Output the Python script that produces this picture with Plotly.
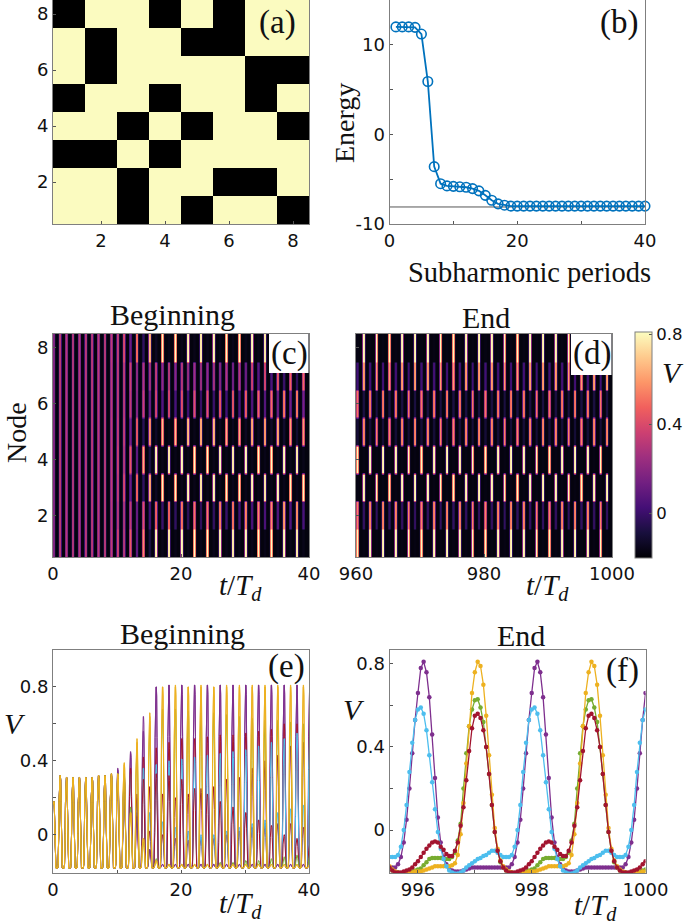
"""Six panel figure: coupling matrix, energy curve, voltage heatmaps and traces."""

import numpy as np
import plotly.colors as pc
import plotly.graph_objects as go

W, H = 685, 924

GREY = "#7f7f7f"
SERIF = "Liberation Serif"
SANS = "DejaVu Sans"

PURPLE = "#7E2F8E"
GREEN = "#77AC30"
CYAN = "#4DBEEE"
RED = "#A2142F"
ORANGE = "#EDB120"

# panel (a): coupling matrix, row 1 first (1 = pale, 0 = black)
COUPLING = [
    [1, 1, 0, 1, 0, 1, 1, 0],
    [1, 1, 0, 1, 1, 0, 0, 1],
    [0, 0, 1, 0, 1, 1, 1, 1],
    [1, 1, 0, 1, 0, 1, 1, 0],
    [0, 1, 1, 0, 1, 1, 0, 1],
    [1, 0, 1, 1, 1, 1, 0, 0],
    [1, 0, 1, 1, 0, 0, 1, 1],
    [0, 1, 1, 0, 1, 0, 1, 1],
]

# panel (b): energy per subharmonic period
PERIODS = list(range(1, 41))
ENERGY = [12.0, 12.0, 12.0, 11.95, 11.2, 5.9, -3.6, -5.5, -5.75, -5.8,
          -5.85, -5.9, -6.05, -6.3, -6.8, -7.35, -7.75, -7.9, -8.0, -8.0,
          -8.0, -8.0, -8.0, -8.0, -8.0, -8.0, -8.0, -8.0, -8.0, -8.0,
          -8.0, -8.0, -8.0, -8.0, -8.0, -8.0, -8.0, -8.0, -8.0, -8.0]
GROUND = [-8.1, -8.1]
GROUND_X = [0, 40]

# panels (c) and (e): peak voltage of each node's pulse at t = 0, 1, ... 40
NODE_1 = [.18, .32, .31, .31, .31, .31, .31, .32, .32, .33, .36, .30, .45, .10, .56, -.08, .80, -.16, .81, -.16, .81,
          -.16, .81, -.16, .81, -.16, .81, -.16, .81, -.16, .81, -.16, .81, -.16, .81, -.16, .81, -.16, .81, -.16, .81]
NODE_2 = [.18, .32, .31, .31, .31, .31, .31, .32, .32, .32, .30, .28, .33, .12, .42, .02, .47, .00, .50, -.02, .52,
          -.03, .52, -.02, .53, -.02, .54, .00, .54, .02, .55, .04, .56, .05, .57, .06, .60, .06, .60, .04, .60]
NODE_3 = [.18, .32, .31, .31, .31, .31, .31, .32, .32, .33, .33, .38, .12, .50, -.02, .64, -.14, .80, -.16, .80, -.16,
          .80, -.16, .80, -.16, .80, -.16, .80, -.16, .80, -.16, .80, -.16, .80, -.16, .80, -.16, .80, -.16, .80, -.16]
NODE_4 = [.18, .32, .31, .31, .31, .31, .31, .32, .32, .33, .35, .30, .44, .10, .64, -.08, .80, -.16, .81, -.16, .81,
          -.16, .81, -.16, .81, -.16, .81, -.16, .81, -.16, .81, -.16, .81, -.16, .81, -.16, .81, -.16, .81, -.16, .81]
NODE_5 = [.18, .32, .31, .31, .31, .31, .31, .32, .32, .33, .33, .33, .15, .46, -.04, .58, -.13, .68, -.16, .68, -.16,
          .67, -.16, .66, -.16, .66, -.15, .65, -.15, .64, -.14, .63, -.14, .62, -.13, .62, -.12, .61, -.11, .60, -.10]
NODE_6 = [.18, .32, .31, .31, .31, .31, .31, .32, .32, .32, .32, .31, .33, .20, .36, .12, .38, .07, .40, .04, .41,
          .02, .42, .00, .43, .00, .44, .02, .45, .04, .46, .06, .48, .08, .50, .12, .52, .14, .55, .16, .56]
NODE_7 = [.18, .32, .31, .31, .31, .31, .31, .32, .32, .32, .32, .32, .36, .22, .30, .26, .33, .22, .32, .20, .30,
          .22, .25, .25, .22, .26, .18, .30, .15, .31, .12, .36, .08, .40, .05, .43, .00, .48, -.02, .50, -.05]
NODE_8 = [.18, .32, .31, .31, .31, .31, .31, .32, .32, .33, .33, .39, .12, .52, -.02, .66, -.14, .80, -.16, .81, -.16,
          .80, -.16, .81, -.16, .80, -.16, .81, -.16, .81, -.16, .81, -.16, .81, -.16, .81, -.16, .81, -.16, .81, -.16]
NODES_BEGIN = [NODE_1, NODE_2, NODE_3, NODE_4, NODE_5, NODE_6, NODE_7, NODE_8]

# panel (d): peak voltage on (even, odd) periods once locked, node 1 first
NODES_END = [
    [.80, -.17],
    [.55, -.02],
    [-.17, .80],
    [.80, -.17],
    [-.10, .55],
    [.52, -.08],
    [.02, .60],
    [-.17, .80],
]

# shape of one pulse as it looks in (c) to (e): fraction of its height,
# one value per 0.05 of time from 0.5 before the peak to 0.45 after it
PULSE_DT = [-.5, -.45, -.4, -.35, -.3, -.25, -.2, -.15, -.1, -.05,
            0, .05, .1, .15, .2, .25, .3, .35, .4, .45]
PULSE_SHAPE = [0, 0, 0, 0, .04, .15, .38, .72, .95, 1,
               1, 1, .95, .72, .38, .15, .04, 0, 0, 0]
BASE_V = -.18

# panel (f): one 2-period cycle, sampled every 0.05 from t = 996
F_PURPLE = [.66, .78, .81, .76, .64, .46, .25, .06, -.06, -.13, -.165, -.185, -.195, -.2, -.2, -.2, -.195, -.19, -.185, -.18,
            -.18, -.18, -.18, -.18, -.18, -.18, -.18, -.18, -.18, -.18, -.18, -.18, -.18, -.165, -.13, -.06, .05, .2, .37, .53]
F_CYAN = [.58, .59, .56, .48, .36, .23, .10, -.01, -.09, -.14, -.175, -.195, -.205, -.21, -.21, -.205, -.195, -.18, -.17, -.16,
          -.15, -.14, -.135, -.125, -.12, -.11, -.10, -.10, -.11, -.12, -.13, -.13, -.13, -.12, -.08, .0, .12, .28, .42, .53]
F_ORANGE = [-.2, -.2, -.195, -.19, -.185, -.18, -.175, -.175, -.175, -.175, -.175, -.175, -.17, -.16, -.12, -.02, .13, .32, .50, .66,
            .76, .81, .79, .70, .55, .36, .17, .01, -.09, -.145, -.175, -.19, -.2, -.205, -.21, -.21, -.21, -.205, -.205, -.2]
F_GREEN = [-.19, -.185, -.17, -.155, -.14, -.135, -.135, -.135, -.135, -.14, -.14, -.14, -.13, -.11, -.05, .03, .2, .37, .5, .58,
           .625, .63, .59, .52, .40, .27, .12, -.01, -.10, -.155, -.18, -.195, -.205, -.205, -.21, -.21, -.21, -.205, -.2, -.195]
F_RED = [-.15, -.13, -.11, -.09, -.075, -.06, -.055, -.06, -.08, -.095, -.115, -.125, -.125, -.10, -.06, .02, .11, .24, .38, .49,
         .55, .56, .54, .48, .40, .27, .12, -.01, -.10, -.15, -.18, -.195, -.205, -.205, -.205, -.2, -.195, -.19, -.18, -.165]

F_STEP = .05
F_START = 995.5

# rows per node in the heatmaps, so smoothing only softens the row edges
ROW_SPLIT = 12


def px_x(p):
    return p / W


def px_y(p):
    return 1 - p / H


def pulse_train(peaks, t0):
    """Lay the pulse shape over the peak list of one node."""
    t, v = [], []
    for k, peak in enumerate(peaks):
        for dt, frac in zip(PULSE_DT, PULSE_SHAPE):
            t.append(t0 + k + dt)
            v.append(BASE_V + (peak - BASE_V) * frac)
    return np.array(t), np.array(v)


def node_grid(rows, t0):
    t = pulse_train(rows[0], t0)[0]
    z = np.array([pulse_train(r, t0)[1] for r in rows])
    y = .5 + (np.arange(8 * ROW_SPLIT) + .5) / ROW_SPLIT
    return t, y, np.repeat(z, ROW_SPLIT, axis=0)


def cycle(values):
    """Repeat the 2-period cycle so it runs from 995.5 to 1000."""
    return np.tile(values, 4)[30:30 + 91]


def axis(rng, major, text, minor=None):
    ax = dict(
        range=rng,
        tickmode="array",
        tickvals=major,
        ticktext=text,
        ticks="inside",
        ticklen=3,
        tickcolor="#555555",
        tickfont=dict(family=SANS, size=18, color="#111111"),
        showline=True,
        linecolor=GREY,
        linewidth=1,
        mirror=True,
        showgrid=False,
        zeroline=False,
    )
    if minor:
        ax["minor"] = dict(tickmode="array", tickvals=minor, ticks="inside", ticklen=3,
                           tickcolor="#555555", showgrid=False)
    return ax


fig = go.Figure()

# pixel boxes of the panels: left, right, top, bottom
BOX_A = (53, 309, 0, 224)
BOX_B = (389.5, 645, 0, 224)
BOX_C = (53, 309, 334, 557)
BOX_D = (356, 612, 334, 557)
BOX_E = (53, 309, 650, 873)
BOX_F = (389.5, 645.5, 650, 873)

panels = [
    (BOX_A, axis([.5, 8.5], [2, 4, 6, 8], ["2", "4", "6", "8"]),
     axis([.5, 8.5], [2, 4, 6, 8], ["2", "4", "6", "8"])),
    (BOX_B, axis([0, 40], [0, 20, 40], ["0", "20", "40"], [10, 30]),
     axis([-10, 15], [-10, 0, 10], ["-10", "0", "10"], [-5, 5])),
    (BOX_C, axis([0, 40], [0, 20, 40], ["0", "20", "40"]),
     axis([.5, 8.5], [2, 4, 6, 8], ["2", "4", "6", "8"])),
    (BOX_D, axis([960, 1000], [960, 980, 1000], ["960", "980", "1000"]),
     axis([.5, 8.5], [2, 4, 6, 8], ["2", "4", "6", "8"])),
    (BOX_E, axis([0, 40], [0, 20, 40], ["0", "20", "40"], [10, 30]),
     axis([-.207, 1], [0, .4, .8], ["0", "0.4", "0.8"], [.2, .6])),
    (BOX_F, axis([995.5, 1000], [996, 998, 1000], ["996", "998", "1000"], [997, 999]),
     axis([-.207, .867], [0, .4, .8], ["0", "0.4", "0.8"], [.2, .6])),
]

layout = {}
for i, (box, xa, ya) in enumerate(panels, start=1):
    suffix = "" if i == 1 else str(i)
    xa.update(domain=[px_x(box[0]), px_x(box[1])], anchor="y" + suffix)
    ya.update(domain=[px_y(box[3]), px_y(box[2])], anchor="x" + suffix)
    layout["xaxis" + suffix] = xa
    layout["yaxis" + suffix] = ya
layout["yaxis4"]["showticklabels"] = False

# (a)
fig.add_trace(go.Heatmap(
    z=COUPLING, x=list(range(1, 9)), y=list(range(1, 9)),
    colorscale=[[0, "#000000"], [1, "#FBFBC0"]], showscale=False,
    xaxis="x", yaxis="y",
))

# (b)
fig.add_trace(go.Scatter(
    x=GROUND_X, y=GROUND, mode="lines", line=dict(color="#555555", width=1),
    xaxis="x2", yaxis="y2", showlegend=False,
))
fig.add_trace(go.Scatter(
    x=PERIODS, y=ENERGY, mode="lines+markers", cliponaxis=False,
    line=dict(color="#0072BD", width=1.8),
    marker=dict(symbol="circle-open", size=9.5, color="#0072BD", line=dict(width=1.6, color="#0072BD")),
    xaxis="x2", yaxis="y2", showlegend=False,
))

# (c): the image stops before the pulse due at t = 40
t_c, y_c, z_c = node_grid([r[:40] + [BASE_V] for r in NODES_BEGIN], .1)
fig.add_trace(go.Heatmap(
    z=z_c, x=t_c, y=y_c, coloraxis="coloraxis", zsmooth="best",
    xaxis="x3", yaxis="y3",
))

# (d)
t_d, y_d, z_d = node_grid([list(r) * 20 + [BASE_V, BASE_V] for r in NODES_END], 960.2)
fig.add_trace(go.Heatmap(
    z=z_d, x=t_d, y=y_d, coloraxis="coloraxis", zsmooth="best",
    xaxis="x4", yaxis="y4",
))

# (e)
e_order = [(NODE_1, PURPLE), (NODE_4, PURPLE), (NODE_2, RED), (NODE_6, CYAN), (NODE_7, RED),
           (NODE_5, GREEN), (NODE_3, ORANGE), (NODE_8, ORANGE)]
for peaks, color in e_order:
    t_e, v_e = pulse_train(peaks, .1)
    keep = t_e >= 0
    fig.add_trace(go.Scatter(
        x=t_e[keep], y=v_e[keep], mode="lines", line=dict(color=color, width=1),
        xaxis="x5", yaxis="y5", showlegend=False,
    ))

# (f)
t_f = F_START + np.arange(91) * F_STEP
for values, color in [(F_PURPLE, PURPLE), (F_GREEN, GREEN), (F_ORANGE, ORANGE), (F_CYAN, CYAN), (F_RED, RED)]:
    fig.add_trace(go.Scatter(
        x=t_f, y=cycle(values), mode="lines+markers",
        line=dict(color=color, width=1.3), marker=dict(color=color, size=4.5),
        xaxis="x6", yaxis="y6", showlegend=False,
    ))


def label(text, x, y, size=28, angle=0, family=SERIF):
    return dict(
        text=text, x=px_x(x), y=px_y(y), xref="paper", yref="paper",
        xanchor="center", yanchor="middle", showarrow=False, textangle=angle,
        font=dict(family=family, size=size, color="#111111"),
    )


TIME_LABEL = "<i>t</i>/<i>T<sub>d</sub></i>"
annotations = [
    label("(a)", 277, 23, 33),
    label("(b)", 619, 22, 33),
    label("(c)", 289, 353, 33),
    label("(d)", 592, 353, 33),
    label("(e)", 286, 666, 33),
    label("(f)", 622, 670, 33),
    label("Beginning", 172, 315, 30),
    label("End", 486, 317, 30),
    label("Beginning", 183, 633, 30),
    label("End", 521, 635, 30),
    label("Subharmonic periods", 529, 273, 28.5),
    label("Energy", 345, 123, 28, -90),
    label("Node", 16, 433, 28, -90),
    label(TIME_LABEL, 240, 587, 29),
    label(TIME_LABEL, 547, 587, 29),
    label(TIME_LABEL, 240, 905, 29),
    label(TIME_LABEL, 595, 907, 29),
    label("<i>V</i>", 15, 723, 30),
    label("<i>V</i>", 354, 709, 30),
    label("<i>V</i>", 673, 373, 30),
]

shapes = [
    # white boxes behind the (c) and (d) labels
    dict(type="rect", xref="paper", yref="paper", layer="above", fillcolor="white",
         line=dict(width=0), x0=px_x(269), x1=px_x(308.5), y0=px_y(373), y1=px_y(334)),
    dict(type="rect", xref="paper", yref="paper", layer="above", fillcolor="white",
         line=dict(width=0), x0=px_x(571), x1=px_x(611.5), y0=px_y(375), y1=px_y(334)),
    # unlabelled colorbar ticks at 0.6 and 0.2
    dict(type="line", xref="paper", yref="paper", layer="above", line=dict(color="#555555", width=1),
         x0=px_x(649), x1=px_x(652), y0=px_y(379), y1=px_y(379)),
    dict(type="line", xref="paper", yref="paper", layer="above", line=dict(color="#555555", width=1),
         x0=px_x(649), x1=px_x(652), y0=px_y(468), y1=px_y(468)),
]

fig.update_layout(
    width=W, height=H, autosize=False,
    margin=dict(l=0, r=0, t=0, b=0, autoexpand=False),
    paper_bgcolor="white", plot_bgcolor="white",
    showlegend=False,
    annotations=annotations,
    shapes=shapes,
    coloraxis=dict(
        colorscale=pc.sequential.Magma, cmin=-.2, cmax=.812,
        colorbar=dict(
            x=px_x(635), xanchor="left", xpad=0, ypad=0,
            y=px_y(445), yanchor="middle", lenmode="pixels", len=226,
            thicknessmode="pixels", thickness=17,
            outlinecolor=GREY, outlinewidth=1,
            ticks="inside", ticklen=3, tickcolor="#555555",
            tickmode="array", tickvals=[0, .4, .8],
            ticktext=["0", "0.4", "0.8"],
            tickfont=dict(family=SANS, size=16.5, color="#111111"),
        ),
    ),
    **layout,
)

fig.write_html("out.html", post_script="document.body.style.margin='0';", config=dict(displayModeBar=False))
